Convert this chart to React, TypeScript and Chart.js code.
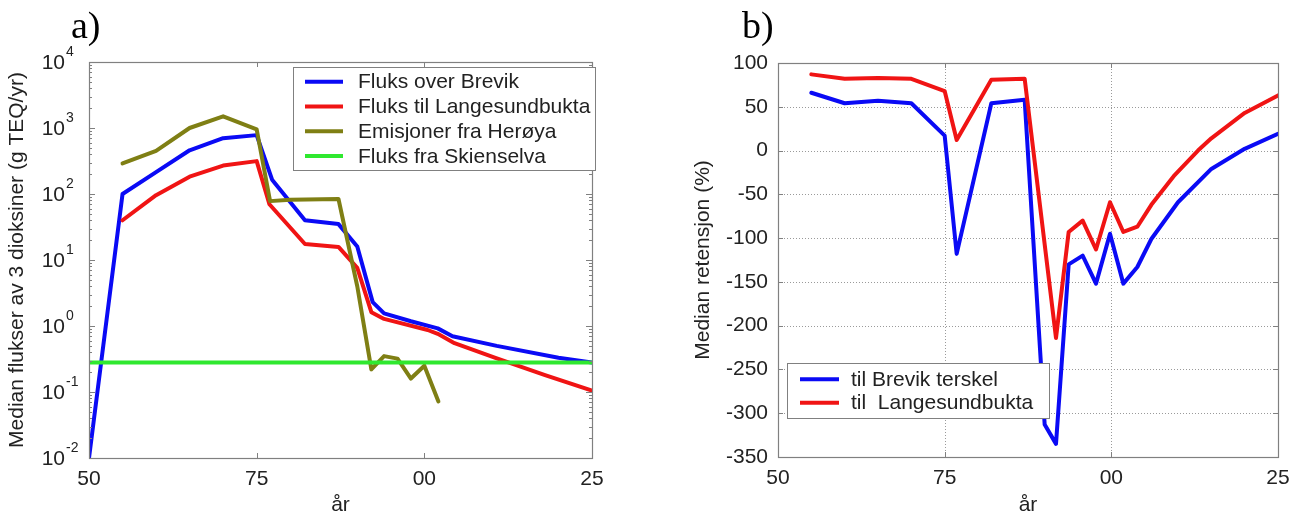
import React, { useEffect, useRef } from "react";
import { Chart, registerables } from "chart.js";
Chart.register(...registerables);

// ---------------- data ----------------
const xTickYears = [1950, 1975, 2000, 2025];
const xTickLabels = ["50", "75", "00", "25"];
const fluxDecades = [-2, -1, 0, 1, 2, 3, 4];
const retensjonTicks = [-350, -300, -250, -200, -150, -100, -50, 0, 50, 100];

// panel a) — median fluxes (g TEQ/yr)
const brevikYears = [1950, 1955, 1960, 1965, 1970, 1975, 1977.3, 1982.2, 1987.2, 1990, 1992.3, 1994, 1998, 2002, 2004.2, 2010.8, 2020, 2025];
const brevikFlux = [0.01, 100, 215, 460, 700, 780, 165, 40, 35, 16, 2.3, 1.55, 1.18, 0.92, 0.7, 0.5, 0.33, 0.28];

const langesundYears = [1955, 1960, 1965, 1970, 1975, 1976.9, 1982.2, 1987.2, 1990, 1992.1, 1994, 2000.5, 2002, 2004.5, 2010.6, 2018, 2025];
const langesundFlux = [40, 96, 183, 270, 315, 70, 17.5, 15.8, 7.6, 1.62, 1.28, 0.87, 0.76, 0.55, 0.33, 0.18, 0.105];

const heroyaYears = [1955, 1960, 1965, 1970, 1975, 1977, 1980, 1987.2, 1990, 1992.1, 1994, 1996, 1998, 2000, 2002.1];
const heroyaFlux = [290, 450, 1000, 1500, 950, 78, 82, 84, 4, 0.22, 0.35, 0.32, 0.16, 0.25, 0.072];

const skienYears = [1950, 2025];
const skienFlux = [0.28, 0.28];

// panel b) — median retention (%)
const retBrevikYears = [1955, 1960, 1965, 1970, 1975, 1976.8, 1982, 1987, 1990, 1991.7, 1993.6, 1995.7, 1997.7, 1999.8, 2001.8, 2003.9, 2006, 2010, 2015, 2020, 2025];
const retBrevik = [66, 54, 57, 54, 17, -118, 54, 58, -313, -335, -130, -120, -152, -95, -152, -133, -101, -59, -21, 2, 19];

const retLangesundYears = [1955, 1960, 1965, 1970, 1975, 1976.8, 1982, 1987, 1991.7, 1993.6, 1995.7, 1997.7, 1999.8, 2001.8, 2003.9, 2006, 2009.5, 2013, 2015, 2020, 2025];
const retLangesund = [87, 82, 83, 82, 68, 12, 81, 82, -214, -93, -80, -113, -59, -93, -87, -62, -28, 0, 14, 43, 63];

// ---------------- styles ----------------
const FONT = '"Liberation Sans", Arial, Helvetica, sans-serif';
const SERIF = '"Liberation Serif", "Times New Roman", serif';
const TEXT = "#222222";
const AXIS = "#808080";
const BLUE = "#0a0af5";
const RED = "#f01414";
const OLIVE = "#7f7f14";
const GREEN = "#2fe82f";
const FS = 21;

const pts = (xs: number[], ys: number[]) => xs.map((x, i) => ({ x, y: ys[i] }));

const xLabel = (v: any) => {
  const i = xTickYears.indexOf(Number(v));
  return i >= 0 ? xTickLabels[i] : "";
};

type LegendCfg = {
  x0: number; y0: number; x1: number; y1: number;
  rows: number[]; lx0: number; lx1: number; tx: number;
  items: { label: string; color: string }[];
};

function drawLegend(ctx: CanvasRenderingContext2D, lg: LegendCfg) {
  ctx.save();
  ctx.fillStyle = "#ffffff";
  ctx.fillRect(lg.x0, lg.y0, lg.x1 - lg.x0, lg.y1 - lg.y0);
  ctx.strokeStyle = AXIS;
  ctx.lineWidth = 1;
  ctx.strokeRect(lg.x0 + 0.5, lg.y0 + 0.5, lg.x1 - lg.x0, lg.y1 - lg.y0);
  ctx.font = `${FS}px ${FONT}`;
  ctx.textBaseline = "middle";
  ctx.textAlign = "left";
  lg.items.forEach((it, i) => {
    const y = lg.rows[i];
    ctx.strokeStyle = it.color;
    ctx.lineWidth = 4;
    ctx.beginPath();
    ctx.moveTo(lg.lx0, y);
    ctx.lineTo(lg.lx1, y);
    ctx.stroke();
    ctx.fillStyle = TEXT;
    ctx.fillText(it.label, lg.tx, y + 1);
  });
  ctx.restore();
}

function drawBox(chart: any) {
  const { ctx, chartArea: ca } = chart;
  ctx.save();
  ctx.strokeStyle = AXIS;
  ctx.lineWidth = 1.2;
  ctx.strokeRect(Math.round(ca.left) + 0.5, Math.round(ca.top) + 0.5, Math.round(ca.right - ca.left), Math.round(ca.bottom - ca.top));
  ctx.restore();
}

function drawXTicks(chart: any) {
  const { ctx, chartArea: ca, scales } = chart;
  ctx.save();
  ctx.strokeStyle = AXIS;
  ctx.lineWidth = 1;
  ctx.beginPath();
  xTickYears.forEach((yr) => {
    const x = Math.round(scales.x.getPixelForValue(yr)) + 0.5;
    ctx.moveTo(x, ca.bottom);
    ctx.lineTo(x, ca.bottom - 5);
    ctx.moveTo(x, ca.top);
    ctx.lineTo(x, ca.top + 5);
  });
  ctx.stroke();
  ctx.restore();
}

const pluginA = {
  id: "frameA",
  afterDraw(chart: any) {
    const { ctx, chartArea: ca, scales } = chart;
    const y = scales.y;
    drawBox(chart);
    drawXTicks(chart);
    // log ticks, inward on left and right
    ctx.save();
    ctx.strokeStyle = AXIS;
    ctx.lineWidth = 1;
    ctx.beginPath();
    fluxDecades.forEach((e) => {
      const py = Math.round(y.getPixelForValue(Math.pow(10, e))) + 0.5;
      ctx.moveTo(ca.left, py); ctx.lineTo(ca.left + 6, py);
      ctx.moveTo(ca.right, py); ctx.lineTo(ca.right - 6, py);
      if (e < 4) {
        for (let m = 2; m <= 9; m++) {
          const pm = Math.round(y.getPixelForValue(m * Math.pow(10, e))) + 0.5;
          ctx.moveTo(ca.left, pm); ctx.lineTo(ca.left + 3, pm);
          ctx.moveTo(ca.right, pm); ctx.lineTo(ca.right - 3, pm);
        }
      }
    });
    ctx.stroke();
    // decade labels 10^e
    ctx.fillStyle = TEXT;
    ctx.textBaseline = "middle";
    fluxDecades.forEach((e) => {
      const py = y.getPixelForValue(Math.pow(10, e));
      ctx.font = `${FS}px ${FONT}`;
      ctx.textAlign = "right";
      ctx.fillText("10", ca.left - 24, py + 1);
      ctx.font = `14px ${FONT}`;
      ctx.textAlign = "left";
      ctx.fillText(String(e), ca.left - 23, py - 10);
    });
    ctx.restore();
    drawLegend(ctx, {
      x0: 293, y0: 67, x1: 595, y1: 170,
      rows: [81.7, 106.5, 131.3, 156],
      lx0: 305, lx1: 343, tx: 358,
      items: [
        { label: "Fluks over Brevik", color: BLUE },
        { label: "Fluks til Langesundbukta", color: RED },
        { label: "Emisjoner fra Herøya", color: OLIVE },
        { label: "Fluks fra Skienselva", color: GREEN },
      ],
    });
  },
};

const pluginB = {
  id: "frameB",
  beforeDatasetsDraw(chart: any) {
    const { ctx, chartArea: ca, scales } = chart;
    ctx.save();
    ctx.strokeStyle = "#9a9a9a";
    ctx.lineWidth = 1;
    ctx.setLineDash([1, 2]);
    ctx.beginPath();
    retensjonTicks.forEach((v) => {
      if (v === retensjonTicks[0] || v === retensjonTicks[retensjonTicks.length - 1]) return;
      const py = Math.round(scales.y.getPixelForValue(v)) + 0.5;
      ctx.moveTo(ca.left, py); ctx.lineTo(ca.right, py);
    });
    xTickYears.forEach((yr, i) => {
      if (i === 0 || i === xTickYears.length - 1) return;
      const px = Math.round(scales.x.getPixelForValue(yr)) + 0.5;
      ctx.moveTo(px, ca.top); ctx.lineTo(px, ca.bottom);
    });
    ctx.stroke();
    ctx.restore();
  },
  afterDraw(chart: any) {
    const { ctx, chartArea: ca, scales } = chart;
    drawBox(chart);
    drawXTicks(chart);
    ctx.save();
    ctx.strokeStyle = AXIS;
    ctx.lineWidth = 1;
    ctx.beginPath();
    retensjonTicks.forEach((v) => {
      const py = Math.round(scales.y.getPixelForValue(v)) + 0.5;
      ctx.moveTo(ca.left, py); ctx.lineTo(ca.left + 5, py);
      ctx.moveTo(ca.right, py); ctx.lineTo(ca.right - 5, py);
    });
    ctx.stroke();
    ctx.restore();
    drawLegend(ctx, {
      x0: 137, y0: 363, x1: 399, y1: 418,
      rows: [379.3, 402.7],
      lx0: 150, lx1: 189, tx: 201,
      items: [
        { label: "til Brevik terskel", color: BLUE },
        { label: "til  Langesundbukta", color: RED },
      ],
    });
  },
};

const lineDs = (label: string, xs: number[], ys: number[], color: string, order: number) => ({
  label,
  data: pts(xs, ys),
  borderColor: color,
  backgroundColor: color,
  borderWidth: 4,
  pointRadius: 0,
  tension: 0,
  fill: false,
  order,
  borderJoinStyle: "round" as const,
  borderCapStyle: "round" as const,
});

const commonX = (height: number) => ({
  type: "linear" as const,
  min: 1950,
  max: 2025,
  afterBuildTicks: (s: any) => { s.ticks = xTickYears.map((v) => ({ value: v })); },
  afterFit: (s: any) => { s.height = height; },
  grid: { display: false, drawTicks: false },
  border: { display: false },
  ticks: { padding: 9, font: { family: FONT, size: FS }, color: TEXT, callback: xLabel, maxRotation: 0, autoSkip: false },
  title: { display: true, text: "år", font: { family: FONT, size: FS }, color: TEXT, padding: { top: 0, bottom: 0 } },
});

function ChartCanvas({ make, width, left }: { make: (c: HTMLCanvasElement) => Chart; width: number; left: number }) {
  const ref = useRef<HTMLCanvasElement | null>(null);
  useEffect(() => {
    if (!ref.current) return;
    const c = make(ref.current);
    return () => c.destroy();
  }, []);
  return <canvas ref={ref} width={width} height={518} style={{ position: "absolute", left, top: 0, width, height: 518 }} />;
}

const makeA = (canvas: HTMLCanvasElement) =>
  new Chart(canvas, {
    type: "line",
    data: {
      datasets: [
        lineDs("Fluks over Brevik", brevikYears, brevikFlux, BLUE, 3),
        lineDs("Fluks til Langesundbukta", langesundYears, langesundFlux, RED, 2),
        lineDs("Emisjoner fra Herøya", heroyaYears, heroyaFlux, OLIVE, 1),
        lineDs("Fluks fra Skienselva", skienYears, skienFlux, GREEN, 0),
      ],
    },
    options: {
      responsive: false,
      animation: false,
      events: [],
      layout: { padding: { left: 0, top: 62, right: 48, bottom: 0 } },
      plugins: { legend: { display: false }, tooltip: { enabled: false } },
      scales: {
        x: commonX(60),
        y: {
          type: "logarithmic",
          min: 0.01,
          max: 10000,
          afterBuildTicks: (s: any) => { s.ticks = fluxDecades.map((e) => ({ value: Math.pow(10, e) })); },
          afterFit: (s: any) => { s.width = 89; },
          grid: { display: false, drawTicks: false },
          border: { display: false },
          ticks: { display: false },
          title: { display: true, text: "Median flukser av 3 dioksiner (g TEQ/yr)", font: { family: FONT, size: FS }, color: TEXT, padding: { top: 5, bottom: 0 } },
        },
      },
    } as any,
    plugins: [pluginA],
  });

const makeB = (canvas: HTMLCanvasElement) =>
  new Chart(canvas, {
    type: "line",
    data: {
      datasets: [
        lineDs("til Brevik terskel", retBrevikYears, retBrevik, BLUE, 1),
        lineDs("til  Langesundbukta", retLangesundYears, retLangesund, RED, 0),
      ],
    },
    options: {
      responsive: false,
      animation: false,
      events: [],
      layout: { padding: { left: 40, top: 63, right: 21, bottom: 0 } },
      plugins: { legend: { display: false }, tooltip: { enabled: false } },
      scales: {
        x: commonX(61),
        y: {
          type: "linear",
          min: -350,
          max: 100,
          afterBuildTicks: (s: any) => { s.ticks = retensjonTicks.map((v) => ({ value: v })); },
          afterFit: (s: any) => { s.width = 88; },
          grid: { display: false, drawTicks: false },
          border: { display: false },
          ticks: { padding: 10, font: { family: FONT, size: FS }, color: TEXT, callback: (v: any) => String(v) },
          title: { display: true, text: "Median retensjon (%)", font: { family: FONT, size: FS }, color: TEXT, padding: { top: 1, bottom: 0 } },
        },
      },
    } as any,
    plugins: [pluginB],
  });

export default function App() {
  const panelLabel = (text: string, left: number) => (
    <div style={{ position: "absolute", left, top: 6, fontFamily: SERIF, fontSize: 38, lineHeight: 1, color: "#000" }}>{text}</div>
  );
  return (
    <div style={{ position: "absolute", left: 0, top: 0, width: 1299, height: 518, background: "#fff", overflow: "hidden" }}>
      <ChartCanvas make={makeA} width={640} left={0} />
      <ChartCanvas make={makeB} width={649} left={650} />
      {panelLabel("a)", 71)}
      {panelLabel("b)", 742)}
    </div>
  );
}
